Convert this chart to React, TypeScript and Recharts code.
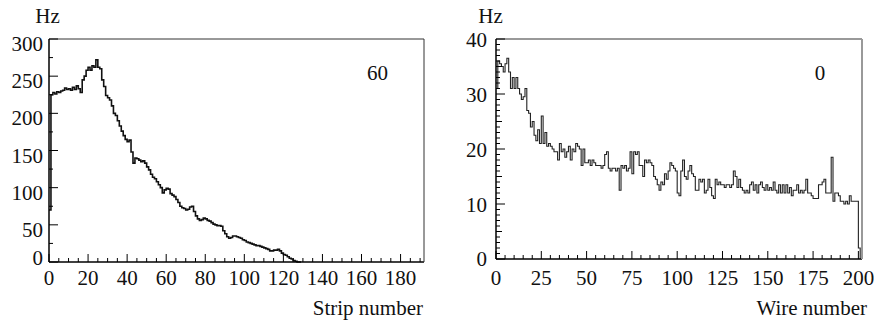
import { LineChart, Line, XAxis, YAxis } from 'recharts'

// rate per strip (Hz), one value per strip bin starting at 0
const stripRates = [
  70, 225, 228, 226, 229, 228, 230, 231, 234, 232,
  233, 231, 235, 232, 237, 233, 228, 245, 250, 258,
  262, 258, 264, 262, 272, 262, 260, 245, 236, 224,
  221, 218, 210, 200, 197, 190, 183, 176, 170, 165,
  162, 164, 148, 133, 140, 139, 137, 135, 136, 133,
  128, 124, 118, 114, 112, 108, 104, 100, 93, 97,
  99, 98, 92, 90, 88, 84, 80, 75, 73, 72,
  70, 71, 74, 75, 68, 62, 58, 56, 57, 59,
  58, 56, 55, 53, 51, 50, 49, 49, 48, 42,
  38, 34, 32, 33, 35, 35, 34, 33, 32, 30,
  29, 27, 26, 25, 24, 23, 22, 22, 21, 20,
  19, 18, 17, 15, 15, 16, 16, 17, 15, 12,
  10, 9, 7, 5, 4, 2, 1, 0, 0,
]

// rate per wire (Hz), one value per wire bin starting at 0
const wireRates = [
  31, 36, 35.5, 35, 34, 35.5, 36.5, 34, 31, 33,
  31, 33, 31, 30, 29, 29.5, 31, 27, 26.5, 24,
  25, 22.5, 21.5, 23.5, 21, 26, 21, 23, 20.5, 21,
  20.5, 20, 19.5, 19.5, 18, 21, 19.5, 20, 18.5, 19.5,
  20.5, 18, 20, 19.5, 21, 20.5, 20, 17, 20, 17.5,
  17.5, 18, 17, 18, 17.5, 17, 17, 17, 16.5, 17,
  19, 19.5, 16.5, 16, 16.5, 16.5, 16, 16.5, 12.5, 17,
  16.5, 17, 16, 16.5, 19.5, 15.5, 19.5, 19, 19.5, 17,
  17, 15, 18, 17.5, 18, 17.5, 17, 15, 14.5, 13.5,
  12.5, 14, 13.5, 15.5, 14.5, 16, 17.5, 17, 16.5, 16,
  12, 11.5, 16, 18, 15, 14.5, 16, 17, 15.5, 15,
  12.5, 12.5, 14.5, 14, 14.5, 12, 12.5, 14.5, 13, 11.5,
  11, 14.5, 13.5, 14, 13.5, 13.5, 13, 13.5, 13.5, 13,
  13.5, 16, 15, 13, 14.5, 13, 12.5, 12, 12.5, 12,
  13.5, 14, 12.5, 13.5, 12, 13.5, 14, 13, 12.5, 13.5,
  12.5, 13, 12.5, 14, 12.5, 12, 13.5, 12, 13.5, 12,
  13.5, 12, 13, 11.5, 12.5, 12.5, 13.5, 12, 12.5, 12,
  12.5, 14.5, 12, 12, 11.5, 11, 11, 11, 13.5, 13.5,
  14, 14.5, 12, 12, 12, 18.5, 10.5, 12, 12, 11.5,
  10.5, 10.5, 10, 10.5, 10, 11.5, 10.5, 10.5, 10.5, 10.5,
  2,
]

const stripTicks = [
  0, 5, 10, 15, 20, 25, 30, 35, 40, 45, 50, 55, 60, 65, 70, 75, 80, 85, 90, 95,
  100, 105, 110, 115, 120, 125, 130, 135, 140, 145, 150, 155, 160, 165, 170, 175, 180, 185, 190,
]
const stripLabels = [0, 20, 40, 60, 80, 100, 120, 140, 160, 180]
const stripRateTicks = [0, 25, 50, 75, 100, 125, 150, 175, 200, 225, 250, 275, 300]
const stripRateLabels = [0, 50, 100, 150, 200, 250, 300]

const wireTicks = [
  0, 5, 10, 15, 20, 25, 30, 35, 40, 45, 50, 55, 60, 65, 70, 75, 80, 85, 90, 95,
  100, 105, 110, 115, 120, 125, 130, 135, 140, 145, 150, 155, 160, 165, 170, 175, 180, 185, 190, 195, 200,
]
const wireLabels = [0, 25, 50, 75, 100, 125, 150, 175, 200]
const wireRateTicks = [
  0, 1, 2, 3, 4, 5, 6, 7, 8, 9, 10, 11, 12, 13, 14, 15, 16, 17, 18, 19,
  20, 21, 22, 23, 24, 25, 26, 27, 28, 29, 30, 31, 32, 33, 34, 35, 36, 37, 38, 39, 40,
]
const wireRateMids = [5, 15, 25, 35]
const wireRateLabels = [0, 10, 20, 30, 40]

// histogram outline: bin left edges plus one closing point
const stripData = [
  ...stripRates.map((v, i) => ({ x: i, y: v })),
  { x: stripRates.length, y: 0 },
]
const wireData = [
  ...wireRates.map((v, i) => ({ x: i, y: v })),
  { x: wireRates.length, y: 0 },
]

const FONT = '"Liberation Serif", "DejaVu Serif", "Times New Roman", serif'
const FS = 21

function xTick(labels: number[], labelDy: number) {
  return (props: any) => {
    const { x, y, payload } = props
    const v = payload.value
    const major = labels.includes(v)
    return (
      <g>
        <line x1={x} x2={x} y1={y} y2={y - (major ? 8 : 4)} stroke="#000" strokeWidth={1} />
        {major && (
          <text x={x} y={y + labelDy} textAnchor="middle" fontSize={FS} fontFamily={FONT} fill="#111">
            {v}
          </text>
        )}
      </g>
    )
  }
}

function yTick(labels: number[], mids: number[], gap: number, dy: number, zeroDy: number) {
  return (props: any) => {
    const { x, y, payload } = props
    const v = payload.value
    const major = labels.includes(v)
    const len = major ? 9 : mids.includes(v) ? 6 : 4
    return (
      <g>
        <line x1={x} x2={x + len} y1={y} y2={y} stroke="#000" strokeWidth={1} />
        {major && (
          <text
            x={x - gap}
            y={y + (v === 0 ? zeroDy : dy)}
            textAnchor="end"
            fontSize={FS}
            fontFamily={FONT}
            fill="#111"
          >
            {v}
          </text>
        )}
      </g>
    )
  }
}

function StripChart() {
  return (
    <LineChart
      width={440}
      height={325}
      data={stripData}
      margin={{ top: 38, right: 15, bottom: 62, left: 48 }}
    >
      <XAxis
        dataKey="x"
        type="number"
        domain={[0, 192]}
        ticks={stripTicks}
        interval={0}
        height={1}
        tickSize={0}
        tickMargin={0}
        tickLine={false}
        axisLine={{ stroke: '#000', strokeWidth: 1.5 }}
        tick={xTick(stripLabels, 23)}
      />
      <XAxis
        xAxisId="top"
        orientation="top"
        dataKey="x"
        type="number"
        domain={[0, 192]}
        height={1}
        tick={false}
        tickLine={false}
        axisLine={{ stroke: '#333', strokeWidth: 1 }}
      />
      <YAxis
        type="number"
        domain={[0, 300]}
        ticks={stripRateTicks}
        interval={0}
        width={1}
        tickSize={0}
        tickMargin={0}
        tickLine={false}
        axisLine={{ stroke: '#000', strokeWidth: 1.5 }}
        tick={yTick(stripRateLabels, [], 6, 12, 3)}
      />
      <YAxis
        yAxisId="right"
        orientation="right"
        type="number"
        domain={[0, 300]}
        width={1}
        tick={false}
        tickLine={false}
        axisLine={{ stroke: '#333', strokeWidth: 1 }}
      />
      <Line
        type="stepAfter"
        dataKey="y"
        stroke="#111"
        strokeWidth={1.6}
        dot={false}
        isAnimationActive={false}
      />
    </LineChart>
  )
}

function WireChart() {
  return (
    <LineChart
      width={437}
      height={325}
      data={wireData}
      margin={{ top: 38, right: 11, bottom: 65, left: 58 }}
    >
      <XAxis
        dataKey="x"
        type="number"
        domain={[0, 202]}
        ticks={wireTicks}
        interval={0}
        height={1}
        tickSize={0}
        tickMargin={0}
        tickLine={false}
        axisLine={{ stroke: '#000', strokeWidth: 1.5 }}
        tick={xTick(wireLabels, 26)}
      />
      <XAxis
        xAxisId="top"
        orientation="top"
        dataKey="x"
        type="number"
        domain={[0, 202]}
        height={1}
        tick={false}
        tickLine={false}
        axisLine={{ stroke: '#999', strokeWidth: 2 }}
      />
      <YAxis
        type="number"
        domain={[0, 40]}
        ticks={wireRateTicks}
        interval={0}
        width={1}
        tickSize={0}
        tickMargin={0}
        tickLine={false}
        axisLine={{ stroke: '#000', strokeWidth: 1.5 }}
        tick={yTick(wireRateLabels, wireRateMids, 9, 8, 7)}
      />
      <YAxis
        yAxisId="right"
        orientation="right"
        type="number"
        domain={[0, 40]}
        width={1}
        tick={false}
        tickLine={false}
        axisLine={{ stroke: '#999', strokeWidth: 2 }}
      />
      <Line
        type="stepAfter"
        dataKey="y"
        stroke="#222"
        strokeWidth={1.1}
        dot={false}
        isAnimationActive={false}
      />
    </LineChart>
  )
}

export default function App() {
  const txt = { fontSize: FS, fontFamily: FONT, fill: '#111' }
  return (
    <div style={{ position: 'absolute', left: 0, top: 0, width: 877, height: 325, background: '#fff' }}>
      <div style={{ position: 'absolute', left: 0, top: 0 }}>
        <StripChart />
      </div>
      <div style={{ position: 'absolute', left: 437, top: 0 }}>
        <WireChart />
      </div>
      <svg
        width={877}
        height={325}
        style={{ position: 'absolute', left: 0, top: 0, pointerEvents: 'none' }}
      >
        <text x={47.5} y={23} textAnchor="middle" {...txt}>Hz</text>
        <text x={490.5} y={23} textAnchor="middle" {...txt}>Hz</text>
        <text x={377.5} y={80} textAnchor="middle" {...txt}>60</text>
        <text x={820} y={80} textAnchor="middle" {...txt}>0</text>
        <text x={423} y={315} textAnchor="end" {...txt}>Strip number</text>
        <text x={867} y={315} textAnchor="end" {...txt}>Wire number</text>
      </svg>
    </div>
  )
}
